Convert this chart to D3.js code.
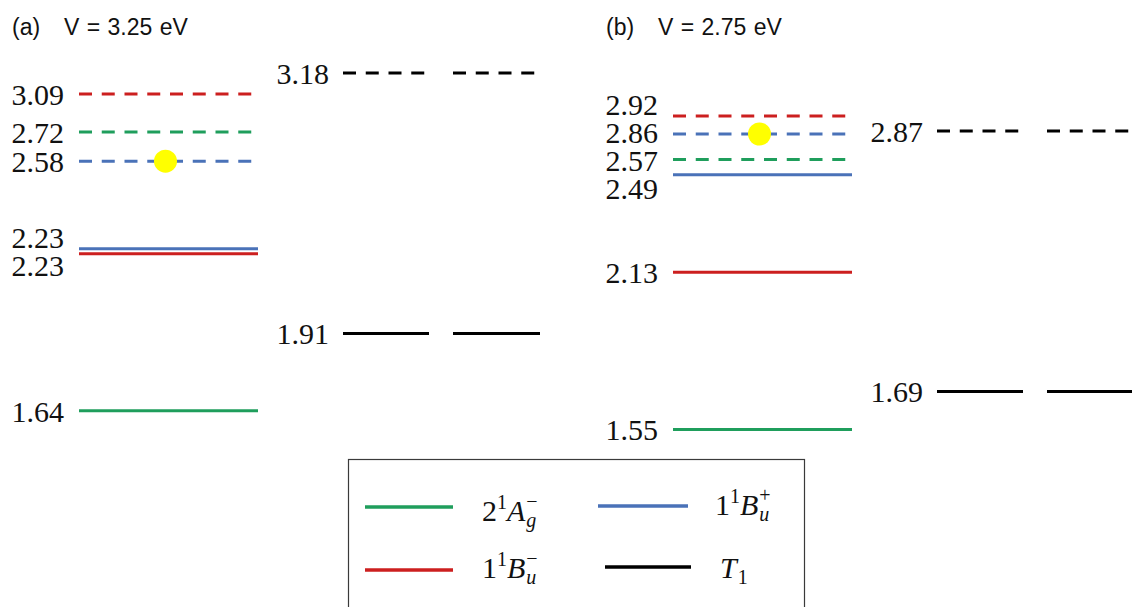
<!DOCTYPE html>
<html>
<head>
<meta charset="utf-8">
<script src="https://cdn.jsdelivr.net/npm/d3@7/dist/d3.min.js"></script>
<style>
  html, body { margin: 0; padding: 0; background: #fff; }
  svg { display: block; }
</style>
</head>
<body>
<svg id="chart" width="1132" height="607"></svg>
<script>
// ---- data -------------------------------------------------------------
const panelTags   = ["(a)", "(b)"];
const panelTitles = ["V = 3.25 eV", "V = 2.75 eV"];

// singlet states, in the order the level arrays below use
const singletStates = ["2Ag-", "1Bu-", "1Bu+"];

// panel (a): singlet energies (eV), solid and dashed levels
const aSolid  = [1.64, 2.23, 2.23];
const aDashed = [2.72, 3.09, 2.58];
// panel (a): triplet T1 energies (eV): [solid, dashed]
const aTriplet = [1.91, 3.18];

// panel (b)
const bSolid  = [1.55, 2.13, 2.49];
const bDashed = [2.57, 2.92, 2.86];
const bTriplet = [1.69, 2.87];

// state carrying the yellow marker (on its dashed level)
const markedState = "1Bu+";

// legend entries
const legendStates = ["2Ag-", "1Bu+", "1Bu-", "T1"];

// ---- styles -----------------------------------------------------------
const colors = { "2Ag-": "#1f9e5c", "1Bu-": "#cc1f1f", "1Bu+": "#4a72b8", "T1": "#000000" };
// when two levels coincide, the first listed sits on top
const stackOrder = ["1Bu+", "1Bu-", "2Ag-"];
const serif = "'Liberation Serif', 'Times New Roman', serif";
const sans  = "'Liberation Sans', Arial, sans-serif";

const svg = d3.select("#chart");

// schematic energy axes (piecewise-linear, compressed at the top)
const yScales = [
  d3.scaleLinear().domain([1.5, 1.9, 2.6, 2.7, 3.1, 3.2]).range([451, 336, 156, 134, 93, 68]),
  d3.scaleLinear().domain([1.5, 2.5, 2.6, 2.85, 3.0]).range([443, 172, 154, 137, 92])
];

const panelShift = [0, 594];
const singletCol = [79, 258];
const tripletCols = [[343, 429], [453, 540]];
const dash = "13,9.75";
const lw = 3;
const labelGap = 28;
const labelSize = 30;

// spread labels vertically so they do not overlap
function spreadLabels(items, gap) {
  const sorted = items.slice().sort((a, b) => a.y - b.y);
  let clusters = sorted.map(d => ({ members: [d] }));
  const center = c => d3.mean(c.members, m => m.y);
  let merged = true;
  while (merged) {
    merged = false;
    for (let i = 0; i < clusters.length - 1; i++) {
      const c1 = clusters[i], c2 = clusters[i + 1];
      const bottom1 = center(c1) + (c1.members.length - 1) * gap / 2;
      const top2 = center(c2) - (c2.members.length - 1) * gap / 2;
      if (top2 - bottom1 < gap) {
        clusters.splice(i, 2, { members: c1.members.concat(c2.members) });
        merged = true;
        break;
      }
    }
  }
  clusters.forEach(c => {
    const m = center(c), n = c.members.length;
    c.members.forEach((d, i) => { d.labelY = m + (i - (n - 1) / 2) * gap; });
  });
}

const panels = [
  { solid: aSolid, dashed: aDashed, triplet: aTriplet },
  { solid: bSolid, dashed: bDashed, triplet: bTriplet }
];

panels.forEach((p, pi) => {
  const g = svg.append("g").attr("transform", `translate(${panelShift[pi]},0)`);
  const y = yScales[pi];

  // title
  g.append("text").attr("x", 12).attr("y", 35)
    .style("font-family", sans).style("font-size", "23px").attr("fill", "#111")
    .text(panelTags[pi]);
  g.append("text").attr("x", 64).attr("y", 35)
    .style("font-family", sans).style("font-size", "23px").attr("fill", "#111")
    .style("word-spacing", "1px")
    .text(panelTitles[pi]);

  // singlet levels
  const levels = [];
  singletStates.forEach((s, i) => {
    levels.push({ state: s, value: p.solid[i], dashed: false });
    levels.push({ state: s, value: p.dashed[i], dashed: true });
  });
  // nudge coincident levels apart
  d3.groups(levels, d => d.value + "|" + d.dashed).forEach(([, grp]) => {
    grp.sort((a, b) => stackOrder.indexOf(a.state) - stackOrder.indexOf(b.state));
    grp.forEach((d, i) => { d.y = y(d.value) + (i - (grp.length - 1) / 2) * 5; });
  });

  g.selectAll("line.singlet").data(levels).join("line")
    .attr("class", "singlet")
    .attr("x1", singletCol[0]).attr("x2", singletCol[1])
    .attr("y1", d => d.y).attr("y2", d => d.y)
    .attr("stroke", d => colors[d.state]).attr("stroke-width", lw)
    .attr("stroke-dasharray", d => d.dashed ? dash : null);

  spreadLabels(levels, labelGap);
  g.selectAll("text.slabel").data(levels).join("text")
    .attr("class", "slabel")
    .attr("x", singletCol[0] - 15).attr("y", d => d.labelY + 1)
    .attr("dy", "0.33em").attr("text-anchor", "end")
    .style("font-family", serif).style("font-size", labelSize + "px").attr("fill", "#111")
    .text(d => d.value.toFixed(2));

  // marker
  const mk = levels.find(d => d.state === markedState && d.dashed);
  g.append("circle")
    .attr("cx", (singletCol[0] + singletCol[1]) / 2 - 3).attr("cy", mk.y)
    .attr("r", 11.5).attr("fill", "#ffff00");

  // triplet levels: two segments each
  const trip = [
    { value: p.triplet[0], dashed: false },
    { value: p.triplet[1], dashed: true }
  ];
  trip.forEach(t => {
    t.y = y(t.value);
    tripletCols.forEach(c => {
      g.append("line")
        .attr("x1", c[0]).attr("x2", c[1]).attr("y1", t.y).attr("y2", t.y)
        .attr("stroke", colors.T1).attr("stroke-width", lw)
        .attr("stroke-dasharray", t.dashed ? dash : null);
    });
  });
  spreadLabels(trip, labelGap);
  g.selectAll("text.tlabel").data(trip).join("text")
    .attr("class", "tlabel")
    .attr("x", tripletCols[0][0] - 14).attr("y", d => d.labelY + 1)
    .attr("dy", "0.33em").attr("text-anchor", "end")
    .style("font-family", serif).style("font-size", labelSize + "px").attr("fill", "#111")
    .text(d => d.value.toFixed(2));
});

// ---- legend -----------------------------------------------------------
const legend = svg.append("g");
legend.append("rect")
  .attr("x", 348.5).attr("y", 459.5).attr("width", 456).attr("height", 200)
  .attr("fill", "none").attr("stroke", "#3a3a3a").attr("stroke-width", 1.2);

const legendText = {
  "2Ag-": { lead: "2", leadSup: "1", base: "A", sub: "g", sup: "\u2212" },
  "1Bu+": { lead: "1", leadSup: "1", base: "B", sub: "u", sup: "+" },
  "1Bu-": { lead: "1", leadSup: "1", base: "B", sub: "u", sup: "\u2212" },
  "T1":   { lead: "",  leadSup: "",  base: "T", sub: "1", sup: "" }
};
const legendPos = {
  "2Ag-": { lx: [365, 453], ly: 507, tx: 482, ty: 521 },
  "1Bu+": { lx: [598, 688], ly: 506, tx: 715, ty: 515 },
  "1Bu-": { lx: [365, 453], ly: 570, tx: 482, ty: 578 },
  "T1":   { lx: [605, 691], ly: 567, tx: 720, ty: 578 }
};

// one text element per label; sub- and superscript share an x position
function mathLabel(x, yb, spec) {
  const fs = 30, small = 20;
  const t = legend.append("text").attr("x", x).attr("y", yb)
    .style("font-family", serif).style("font-size", fs + "px").attr("fill", "#111");
  if (spec.lead) {
    t.append("tspan").text(spec.lead);
    t.append("tspan").attr("dy", -12).style("font-size", small + "px").text(spec.leadSup);
    t.append("tspan").attr("dy", 12).style("font-style", "italic").text(spec.base);
  } else {
    t.append("tspan").style("font-style", "italic").text(spec.base);
  }
  const w = t.node().getComputedTextLength();
  t.append("tspan").attr("x", x + w + 1).attr("dy", 6)
    .style("font-size", small + "px")
    .style("font-style", /\d/.test(spec.sub) ? "normal" : "italic")
    .text(spec.sub);
  if (spec.sup) {
    t.append("tspan").attr("x", x + w + 1).attr("dy", -19)
      .style("font-size", small + "px").text(spec.sup);
  }
}

legendStates.forEach(s => {
  const p = legendPos[s];
  legend.append("line")
    .attr("x1", p.lx[0]).attr("x2", p.lx[1]).attr("y1", p.ly).attr("y2", p.ly)
    .attr("stroke", colors[s]).attr("stroke-width", 3.3);
  mathLabel(p.tx, p.ty, legendText[s]);
});
</script>
</body>
</html>
